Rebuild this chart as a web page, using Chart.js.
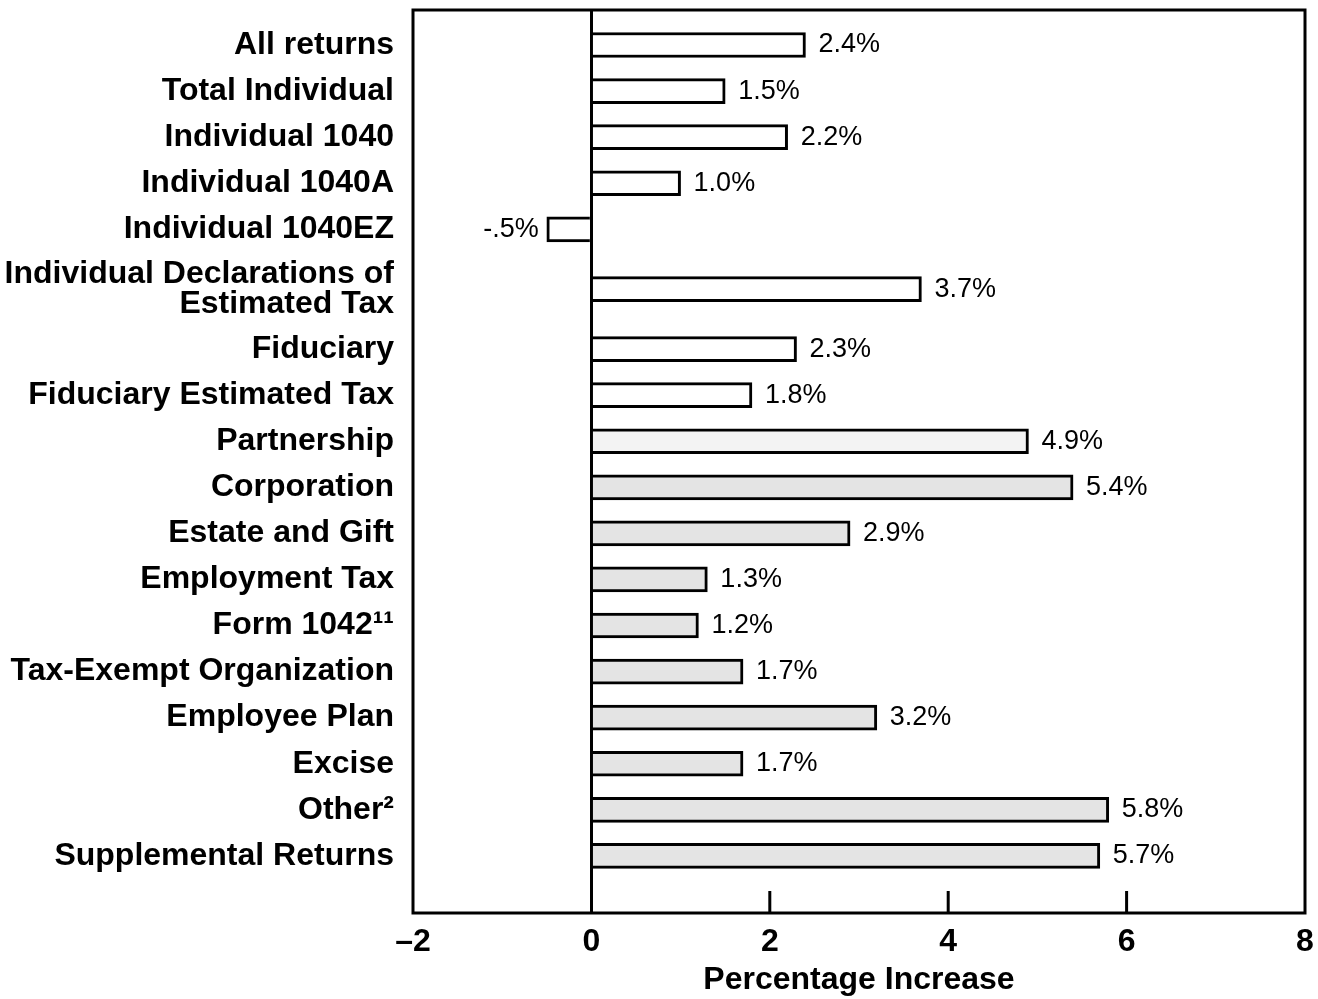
<!DOCTYPE html>
<html>
<head>
<meta charset="utf-8">
<script src="https://cdn.jsdelivr.net/npm/chart.js@4/dist/chart.umd.min.js"></script>
<style>
  body { margin: 0; background: #fff; }
</style>
</head>
<body>
<canvas id="incChart" width="1318" height="999"></canvas>
<script>
var categories = ["All returns", "Total Individual", "Individual 1040", "Individual 1040A", "Individual 1040EZ",
  "Individual Declarations of\nEstimated Tax", "Fiduciary", "Fiduciary Estimated Tax", "Partnership", "Corporation",
  "Estate and Gift", "Employment Tax", "Form 1042\u00b9\u00b9", "Tax-Exempt Organization", "Employee Plan",
  "Excise", "Other\u00b2", "Supplemental Returns"];
var increases = [2.4, 1.5, 2.2, 1.0, -0.5, 3.7, 2.3, 1.8, 4.9, 5.4, 2.9, 1.3, 1.2, 1.7, 3.2, 1.7, 5.8, 5.7];
var xTicks = [-2, 0, 2, 4, 6, 8];
var innerTicks = [2, 4, 6];

// slot for each category, two-line labels get a bit more room
var slots = [];
categories.forEach(function(c, i) {
  if (i == 0) { slots.push(0); return; }
  var extra = (c.indexOf('\n') >= 0 || categories[i - 1].indexOf('\n') >= 0) ? 0.3 : 0;
  slots.push(slots[i - 1] + 1 + extra);
});

var boldFont = { family: "'Liberation Sans', Arial, sans-serif", size: 32, weight: 'bold', lineHeight: 0.95 };

function pctText(v) {
  if (v < 0) return '-' + Math.abs(v).toFixed(1).replace(/^0/, '') + '%';
  return v.toFixed(1) + '%';
}

// box, inside tick marks and the value labels
var extras = {
  id: 'extras',
  afterDatasetsDraw: function(chart) {
    var c = chart.ctx, a = chart.chartArea, xs = chart.scales.x;
    c.save();
    c.strokeStyle = '#000';
    c.lineWidth = 3;
    c.strokeRect(a.left, a.top, a.right - a.left, a.bottom - a.top);
    innerTicks.forEach(function(t) {
      var px = xs.getPixelForValue(t);
      c.beginPath();
      c.moveTo(px, a.bottom);
      c.lineTo(px, a.bottom - 22);
      c.stroke();
    });
    c.fillStyle = '#000';
    c.font = "27px 'Liberation Sans', Arial, sans-serif";
    c.textBaseline = 'middle';
    var meta = chart.getDatasetMeta(0);
    meta.data.forEach(function(bar, i) {
      var v = increases[i];
      if (v < 0) {
        c.textAlign = 'right';
        c.fillText(pctText(v), bar.x - 8, bar.y);
      } else {
        c.textAlign = 'left';
        c.fillText(pctText(v), bar.x + 13, bar.y);
      }
    });
    c.restore();
  }
};

var ctx = document.getElementById('incChart').getContext('2d');
var incChart = new Chart(ctx, {
  type: 'bar',
  data: {
    datasets: [{
      data: increases.map(function(v, i) { return { x: v, y: slots[i] }; }),
      backgroundColor: function(c) {
        if (c.dataIndex >= 9) return '#e4e4e4';
        if (c.dataIndex == 8) return '#f3f3f3';
        return '#ffffff';
      },
      borderColor: '#000',
      borderWidth: 3,
      barThickness: 25
    }]
  },
  options: {
    indexAxis: 'y',
    responsive: false,
    animation: false,
    layout: { padding: { top: 10, right: 13, bottom: 0, left: 0 } },
    plugins: { legend: { display: false }, tooltip: { enabled: false } },
    scales: {
      y: {
        type: 'linear',
        reverse: true,
        offset: false,
        min: -0.76,
        max: slots[slots.length - 1] + 1.24,
        afterBuildTicks: function(s) {
          s.ticks = slots.map(function(p) { return { value: p }; });
        },
        afterFit: function(s) {
          s.width = 413;
          s.paddingTop = 0;
          s.paddingBottom = 0;
        },
        ticks: {
          autoSkip: false,
          color: '#000',
          font: boldFont,
          padding: 11,
          callback: function(v, idx) {
            var c = categories[idx];
            if (c === undefined) return '';
            return c.indexOf('\n') >= 0 ? c.split('\n') : c;
          }
        },
        grid: { display: false, offset: false },
        border: { display: false }
      },
      x: {
        type: 'linear',
        min: -2,
        max: 8,
        afterBuildTicks: function(s) {
          s.ticks = xTicks.map(function(v) { return { value: v }; });
        },
        afterFit: function(s) {
          s.height = 86;
          s.paddingLeft = 0;
          s.paddingRight = 0;
        },
        ticks: {
          color: '#000',
          font: boldFont,
          padding: 14,
          maxRotation: 0,
          callback: function(v) { return v < 0 ? '\u2013' + Math.abs(v) : String(v); }
        },
        grid: {
          drawTicks: false,
          lineWidth: 3,
          color: function(c) { return c.tick && c.tick.value === 0 ? '#000' : 'rgba(0,0,0,0)'; }
        },
        border: { display: false },
        title: {
          display: true,
          text: 'Percentage Increase',
          color: '#000',
          font: { family: "'Liberation Sans', Arial, sans-serif", size: 32, weight: 'bold' },
          padding: 0
        }
      }
    }
  },
  plugins: [extras]
});
</script>
</body>
</html>
